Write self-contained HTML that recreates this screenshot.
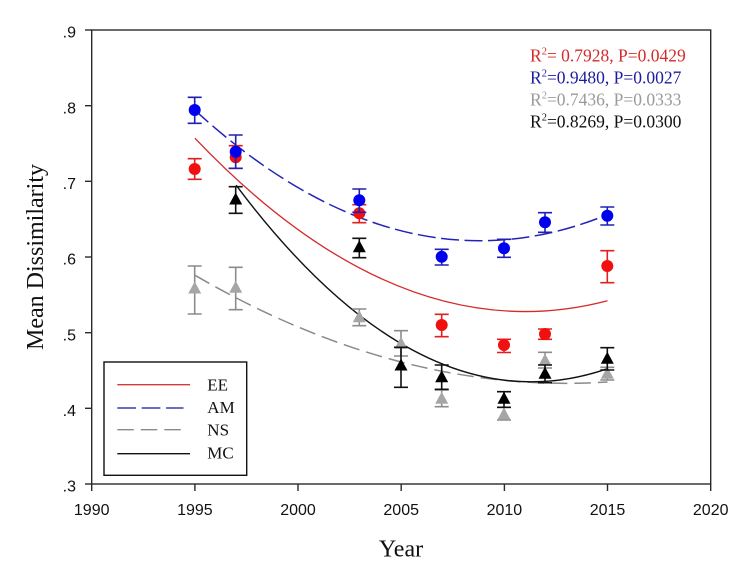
<!DOCTYPE html>
<html>
<head>
<meta charset="utf-8">
<style>
html,body{margin:0;padding:0;background:#fff;}
svg{display:block;}
</style>
</head>
<body>
<svg width="753" height="587" viewBox="0 0 753 587" xmlns="http://www.w3.org/2000/svg">
<rect x="0" y="0" width="753" height="587" fill="#fff"/>

<!-- frame -->
<rect x="91.7" y="30" width="619" height="454" fill="none" stroke="#2a2a2a" stroke-width="1.4"/>

<!-- y ticks -->
<g stroke="#2a2a2a" stroke-width="1.4">
<line x1="85" y1="30" x2="91.7" y2="30"/>
<line x1="85" y1="105.7" x2="91.7" y2="105.7"/>
<line x1="85" y1="181.3" x2="91.7" y2="181.3"/>
<line x1="85" y1="257" x2="91.7" y2="257"/>
<line x1="85" y1="332.7" x2="91.7" y2="332.7"/>
<line x1="85" y1="408.3" x2="91.7" y2="408.3"/>
<line x1="85" y1="484" x2="91.7" y2="484"/>
<!-- x ticks -->
<line x1="91.7" y1="484" x2="91.7" y2="491"/>
<line x1="194.9" y1="484" x2="194.9" y2="491"/>
<line x1="298" y1="484" x2="298" y2="491"/>
<line x1="401.2" y1="484" x2="401.2" y2="491"/>
<line x1="504.4" y1="484" x2="504.4" y2="491"/>
<line x1="607.5" y1="484" x2="607.5" y2="491"/>
<line x1="710.7" y1="484" x2="710.7" y2="491"/>
</g>

<g font-family="'Liberation Sans', Arial, sans-serif" font-size="16" fill="#111" text-anchor="end">
<text x="76" y="37.7">.9</text>
<text x="76" y="113.4">.8</text>
<text x="76" y="189">.7</text>
<text x="76" y="264.7">.6</text>
<text x="76" y="340.4">.5</text>
<text x="76" y="416">.4</text>
<text x="76" y="491.7">.3</text>
</g>
<g font-family="'Liberation Sans', Arial, sans-serif" font-size="16" fill="#111" text-anchor="middle">
<text x="91.7" y="515">1990</text>
<text x="194.9" y="515">1995</text>
<text x="298" y="515">2000</text>
<text x="401.2" y="515">2005</text>
<text x="504.4" y="515">2010</text>
<text x="607.5" y="515">2015</text>
<text x="710.7" y="515">2020</text>
</g>

<!-- axis titles -->
<text x="401" y="556.7" font-family="'Liberation Serif', 'Times New Roman', serif" font-size="24" fill="#111" text-anchor="middle">Year</text>
<text transform="translate(43,257) rotate(-90)" font-family="'Liberation Serif', 'Times New Roman', serif" font-size="24" fill="#111" text-anchor="middle">Mean Dissimilarity</text>

<!-- fit curves -->
<path d="M194.9,138.2 Q401.2,354.9 607.5,300.7" fill="none" stroke="#d42a2a" stroke-width="1.3"/>
<path d="M194.9,110.2 Q401.2,299.2 607.5,214.6" fill="none" stroke="#2424b4" stroke-width="1.5" stroke-dasharray="18 5.5"/>
<path d="M194.9,275.2 Q401.2,395.4 607.5,382.0" fill="none" stroke="#8a8a8a" stroke-width="1.5" stroke-dasharray="16.5 7"/>
<path d="M236.1,185.2 Q421.8,432.7 607.5,368.7" fill="none" stroke="#111" stroke-width="1.4"/>

<!-- EE red -->
<g stroke="#e02020" stroke-width="1.6" fill="none">
<path d="M194.7,158.7V179.3M187.7,158.7h14M187.7,179.3h14"/>
<path d="M235.7,145.7V168.3M228.7,145.7h14M228.7,168.3h14"/>
<path d="M359.3,204.7V222.7M352.3,204.7h14M352.3,222.7h14"/>
<path d="M441.7,314.3V336.7M434.7,314.3h14M434.7,336.7h14"/>
<path d="M504,339.3V352.5M497,339.3h14M497,352.5h14"/>
<path d="M545,329V339.3M538,329h14M538,339.3h14"/>
<path d="M607.3,250.7V282.7M600.3,250.7h14M600.3,282.7h14"/>
</g>
<g fill="#f01010">
<circle cx="194.7" cy="169" r="6"/>
<circle cx="235.7" cy="157.3" r="6"/>
<circle cx="359.3" cy="213.3" r="6"/>
<circle cx="441.7" cy="325" r="6"/>
<circle cx="504" cy="345" r="6"/>
<circle cx="545" cy="334" r="6"/>
<circle cx="607.3" cy="266" r="6"/>
</g>

<!-- AM blue -->
<g stroke="#2020b0" stroke-width="1.6" fill="none">
<path d="M194.7,97.3V123.3M187.7,97.3h14M187.7,123.3h14"/>
<path d="M235.7,135V168.3M228.7,135h14M228.7,168.3h14"/>
<path d="M359.3,189V212.3M352.3,189h14M352.3,212.3h14"/>
<path d="M441.7,249.3V265M434.7,249.3h14M434.7,265h14"/>
<path d="M504,239.3V257.3M497,239.3h14M497,257.3h14"/>
<path d="M545,212.7V232.3M538,212.7h14M538,232.3h14"/>
<path d="M607.3,207V225M600.3,207h14M600.3,225h14"/>
</g>
<g fill="#0000f0">
<circle cx="194.7" cy="110" r="6"/>
<circle cx="235.7" cy="151.7" r="6"/>
<circle cx="359.3" cy="200.3" r="6"/>
<circle cx="441.7" cy="256.7" r="6"/>
<circle cx="504" cy="248.3" r="6"/>
<circle cx="545" cy="222.3" r="6"/>
<circle cx="607.3" cy="215.7" r="6"/>
</g>

<!-- NS gray -->
<g stroke="#8c8c8c" stroke-width="1.6" fill="none">
<path d="M194.7,266V314M187.7,266h14M187.7,314h14"/>
<path d="M235.7,267.3V309.7M228.7,267.3h14M228.7,309.7h14"/>
<path d="M359.3,309V325.7M352.3,309h14M352.3,325.7h14"/>
<path d="M401,330.7V356M394,330.7h14M394,356h14"/>
<path d="M441.7,390V406.7M434.7,390h14M434.7,406.7h14"/>
<path d="M504,407.3V420M497,407.3h14M497,420h14"/>
<path d="M545,352.3V368M538,352.3h14M538,368h14"/>
<path d="M607.3,367.3V380M600.3,367.3h14M600.3,380h14"/>
</g>
<g fill="#a6a6a6">
<path d="M194.7,281.5l6.5,12h-13z"/>
<path d="M235.7,280.8l6.5,12h-13z"/>
<path d="M359.3,310.2l6.5,12h-13z"/>
<path d="M401,336.8l6.5,12h-13z"/>
<path d="M441.7,391.8l6.5,12h-13z"/>
<path d="M504,407.5l6.5,12h-13z"/>
<path d="M545,353.5l6.5,12h-13z"/>
<path d="M607.3,366.8l6.5,12h-13z"/>
</g>

<!-- MC black -->
<g stroke="#111" stroke-width="1.6" fill="none">
<path d="M235.7,186.7V213.3M228.7,186.7h14M228.7,213.3h14"/>
<path d="M359.3,238.3V257.7M352.3,238.3h14M352.3,257.7h14"/>
<path d="M401,347.3V387.3M394,347.3h14M394,387.3h14"/>
<path d="M441.7,365V389.3M434.7,365h14M434.7,389.3h14"/>
<path d="M504,391.7V407.3M497,391.7h14M497,407.3h14"/>
<path d="M545,365V382.7M538,365h14M538,382.7h14"/>
<path d="M607.3,347.7V370M600.3,347.7h14M600.3,370h14"/>
</g>
<g fill="#000">
<path d="M235.7,192.5l6.5,12h-13z"/>
<path d="M359.3,240.2l6.5,12h-13z"/>
<path d="M401,358.5l6.5,12h-13z"/>
<path d="M441.7,370.2l6.5,12h-13z"/>
<path d="M504,391.8l6.5,12h-13z"/>
<path d="M545,366.8l6.5,12h-13z"/>
<path d="M607.3,351.8l6.5,12h-13z"/>
</g>

<!-- R2 annotations -->
<g font-family="'Liberation Serif', 'Times New Roman', serif" font-size="17.5">
<text x="530" y="61.7" fill="#d42a2a">R<tspan font-size="10.5" dy="-7">2</tspan><tspan dy="7">= 0.7928, P=0.0429</tspan></text>
<text x="530" y="83.7" fill="#1c1ca0">R<tspan font-size="10.5" dy="-7">2</tspan><tspan dy="7">=0.9480, P=0.0027</tspan></text>
<text x="530" y="105.7" fill="#9a9a9a">R<tspan font-size="10.5" dy="-7">2</tspan><tspan dy="7">=0.7436, P=0.0333</tspan></text>
<text x="530" y="127.7" fill="#111">R<tspan font-size="10.5" dy="-7">2</tspan><tspan dy="7">=0.8269, P=0.0300</tspan></text>
</g>

<!-- legend -->
<rect x="104" y="362" width="142.7" height="113.3" fill="#fff" stroke="#111" stroke-width="1.4"/>
<line x1="117.3" y1="384.7" x2="190" y2="384.7" stroke="#d43a3a" stroke-width="1.3"/>
<line x1="117.3" y1="408" x2="183.5" y2="408" stroke="#3a3ab0" stroke-width="1.5" stroke-dasharray="18.7 5.7"/>
<line x1="117.3" y1="429.7" x2="183.5" y2="429.7" stroke="#8a8a8a" stroke-width="1.3" stroke-dasharray="16.5 7"/>
<line x1="117.3" y1="453.7" x2="190" y2="453.7" stroke="#111" stroke-width="1.4"/>
<g font-family="'Liberation Serif', 'Times New Roman', serif" font-size="17" fill="#111">
<text x="207.3" y="390.3">EE</text>
<text x="207.3" y="413">AM</text>
<text x="207.3" y="435.3">NS</text>
<text x="207.3" y="458.7">MC</text>
</g>
</svg>
</body>
</html>
